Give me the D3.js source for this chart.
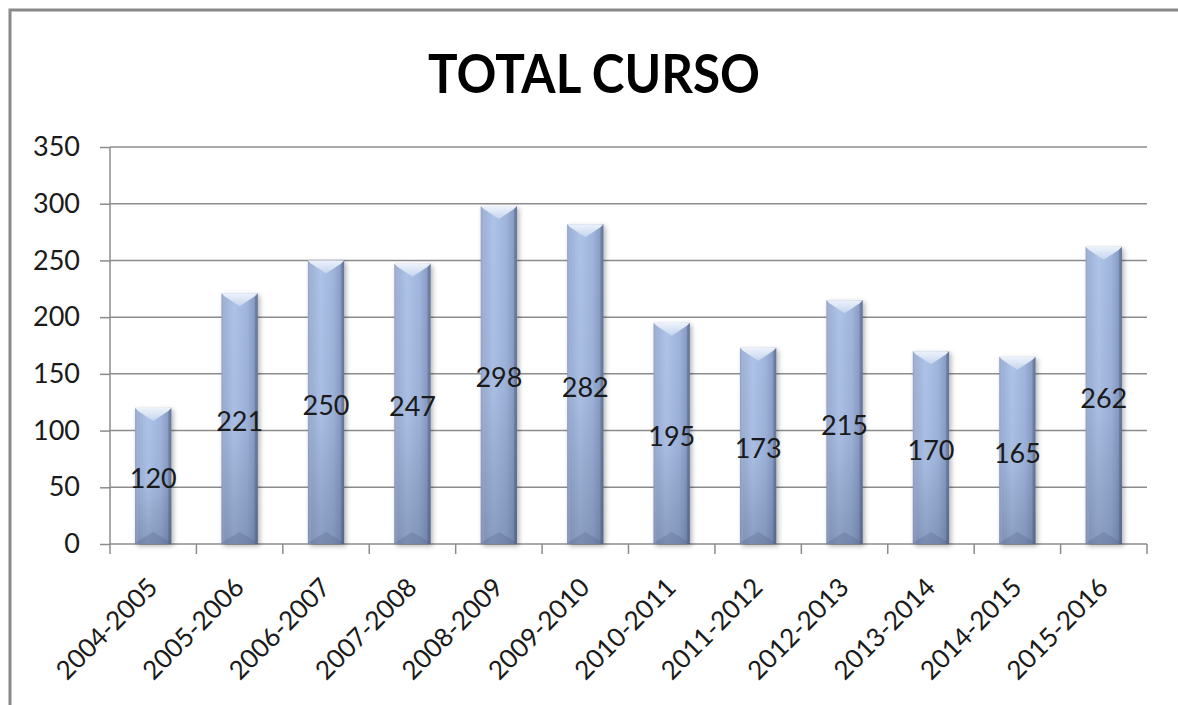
<!DOCTYPE html>
<html>
<head>
<meta charset="utf-8">
<script src="https://cdn.jsdelivr.net/npm/d3@7"></script>
<style>
  body { margin: 0; background: #fff; }
  text { font-family: Lato, "Open Sans", sans-serif; }
</style>
</head>
<body>
<div id="bar-chart"></div>
<script>
// Daten: Kurse und Gesamtzahlen, direkt
const courses = ["2004-2005", "2005-2006", "2006-2007", "2007-2008", "2008-2009", "2009-2010",
                 "2010-2011", "2011-2012", "2012-2013", "2013-2014", "2014-2015", "2015-2016"];
const totals = [120, 221, 250, 247, 298, 282, 195, 173, 215, 170, 165, 262];
const yTicks = [0, 50, 100, 150, 200, 250, 300, 350];
const chartTitle = "TOTAL CURSO";

const drawBarChart = () => {
    const width = 1178;
    const height = 705;
    // Plotbereich (in Pixeln der Vorlage gemessen)
    const margin = {top: 147, right: 31, bottom: 161, left: 110};
    const innerWidth = width - margin.left - margin.right;
    const innerHeight = height - margin.top - margin.bottom;

    const svg = d3.select("#bar-chart")
        .append("svg")
        .attr("width", width)
        .attr("height", height)
        .attr("viewBox", `0, 0, ${width}, ${height}`);

    // Verläufe für die "Zylinder"-Balken
    const defs = svg.append("defs");
    const hGrad = defs.append("linearGradient").attr("id", "barH")
        .attr("x1", "0").attr("x2", "1").attr("y1", "0").attr("y2", "0");
    [["0%", "#7f92b9"], ["10%", "#9fb3d9"], ["35%", "#aec3e7"], ["70%", "#a0b5dc"], ["90%", "#8a9ec6"], ["100%", "#6f82a8"]]
        .forEach(([o, c]) => hGrad.append("stop").attr("offset", o).attr("stop-color", c));
    const vGrad = defs.append("linearGradient").attr("id", "barV")
        .attr("x1", "0").attr("x2", "0").attr("y1", "0").attr("y2", "1");
    [["0%", 0], ["55%", 0.05], ["100%", 0.32]]
        .forEach(([o, a]) => vGrad.append("stop").attr("offset", o)
            .attr("stop-color", "#3d4c6e").attr("stop-opacity", a));
    const topGrad = defs.append("linearGradient").attr("id", "barTop")
        .attr("x1", "0").attr("x2", "0").attr("y1", "0").attr("y2", "1");
    topGrad.append("stop").attr("offset", "0%").attr("stop-color", "#eef3fb");
    topGrad.append("stop").attr("offset", "100%").attr("stop-color", "#c4d4ee");
    const shadow = defs.append("filter").attr("id", "shadow")
        .attr("x", "-30%").attr("y", "-10%").attr("width", "160%").attr("height", "120%");
    shadow.append("feDropShadow").attr("dx", 2).attr("dy", 2).attr("stdDeviation", 2.5)
        .attr("flood-color", "#000").attr("flood-opacity", 0.3);

    // Rahmen (links und oben sichtbar, Rest ist abgeschnitten)
    svg.append("path")
        .attr("d", `M 10 ${height + 5} V 10 H ${width + 5}`)
        .attr("fill", "none")
        .attr("stroke", "#8a8a8a")
        .attr("stroke-width", 3);

    // Titel
    svg.append("text")
        .text(chartTitle)
        .attr("x", 594)
        .attr("y", 93)
        .attr("text-anchor", "middle")
        .attr("font-size", 54)
        .attr("font-weight", "bold")
        .attr("textLength", 332)
        .attr("lengthAdjust", "spacingAndGlyphs")
        .attr("fill", "#000");

    const innerChart = svg.append("g")
        .attr("transform", `translate(${margin.left}, ${margin.top})`);

    // Skalen
    const xScale = d3.scaleBand()
        .domain(courses)
        .range([0, innerWidth])
        .paddingInner(0.58)
        .paddingOuter(0.29);
    const step = xScale.step();
    const yScale = d3.scaleLinear()
        .domain([0, 350])
        .range([innerHeight, 0]);

    // Gitterlinien
    innerChart.append("g")
        .selectAll("line")
        .data(yTicks.filter(t => t > 0))
        .join("line")
        .attr("x1", 0).attr("x2", innerWidth)
        .attr("y1", d => yScale(d)).attr("y2", d => yScale(d))
        .attr("stroke", "#8c8c8c")
        .attr("stroke-width", 1.5);

    // Y-Achse
    const leftAxis = d3.axisLeft(yScale)
        .tickValues(yTicks)
        .tickSize(10)
        .tickPadding(20);
    const yAxis = innerChart.append("g")
        .attr("class", "axis-y")
        .call(leftAxis);
    yAxis.select(".domain").attr("stroke", "#8c8c8c").attr("stroke-width", 1.5)
        .attr("d", `M 0 0 V ${innerHeight}`);
    yAxis.selectAll(".tick line").attr("stroke", "#8c8c8c").attr("stroke-width", 1.5);
    yAxis.selectAll(".tick text")
        .attr("font-size", 27)
        .attr("font-family", "Lato, sans-serif")
        .attr("fill", "#1a1a1a");

    // X-Achse: Linie und Teilstriche an den Kategoriegrenzen
    const xAxis = innerChart.append("g")
        .attr("class", "axis-x")
        .attr("transform", `translate(0, ${innerHeight})`);
    xAxis.append("line")
        .attr("x1", 0).attr("x2", innerWidth)
        .attr("stroke", "#8c8c8c").attr("stroke-width", 1.5);
    const boundaries = [0, ...courses.map(c => xScale(c) - xScale.paddingInner() * step / 2 + step)];
    xAxis.selectAll(".xtick")
        .data(boundaries)
        .join("line")
        .attr("class", "xtick")
        .attr("x1", d => d).attr("x2", d => d)
        .attr("y1", 0).attr("y2", 10)
        .attr("stroke", "#8c8c8c").attr("stroke-width", 1.5);
    xAxis.selectAll(".xlabel")
        .data(courses)
        .join("text")
        .attr("class", "xlabel")
        .text(d => d)
        .attr("text-anchor", "end")
        .attr("font-size", 26)
        .attr("fill", "#1a1a1a")
        .attr("transform", d => `translate(${xScale(d) + xScale.bandwidth() / 2 + 6}, 45) rotate(-45)`);

    // Balken
    const bw = xScale.bandwidth();
    const bars = innerChart.append("g")
        .selectAll("g")
        .data(totals)
        .join("g")
        .attr("transform", (d, i) => `translate(${xScale(courses[i])}, 0)`);

    bars.append("rect")
        .attr("x", 0)
        .attr("y", d => yScale(d))
        .attr("width", bw)
        .attr("height", d => innerHeight - yScale(d))
        .attr("fill", "url(#barH)")
        .attr("filter", "url(#shadow)");
    bars.append("rect")
        .attr("x", 0)
        .attr("y", d => yScale(d))
        .attr("width", bw)
        .attr("height", d => innerHeight - yScale(d))
        .attr("fill", "url(#barV)");
    // Seitliche Kanten
    bars.append("rect")
        .attr("x", 0).attr("y", d => yScale(d))
        .attr("width", 3).attr("height", d => innerHeight - yScale(d))
        .attr("fill", "#ffffff").attr("opacity", 0.15);
    bars.append("rect")
        .attr("x", bw - 3).attr("y", d => yScale(d))
        .attr("width", 3).attr("height", d => innerHeight - yScale(d))
        .attr("fill", "#2f3d5c").attr("opacity", 0.2);
    // Heller Keil oben
    bars.append("path")
        .attr("d", d => {
            const t = yScale(d);
            return `M 0 ${t} L ${bw} ${t} L ${bw - 3} ${t + 3} L ${bw / 2} ${t + 13} L 3 ${t + 3} Z`;
        })
        .attr("fill", "url(#barTop)");
    // Dunkler Keil unten
    bars.append("path")
        .attr("d", `M 0 ${innerHeight} L ${bw} ${innerHeight} L ${bw - 3} ${innerHeight - 3} L ${bw / 2} ${innerHeight - 12} L 3 ${innerHeight - 3} Z`)
        .attr("fill", "#4a5a7e")
        .attr("opacity", 0.25);

    // Werte mittig im Balken
    bars.append("text")
        .text(d => d)
        .attr("x", bw / 2)
        .attr("y", d => (yScale(d) + innerHeight) / 2 + 2)
        .attr("text-anchor", "middle")
        .attr("dominant-baseline", "central")
        .attr("font-size", 27)
        .attr("fill", "#1a1a1a");
};

drawBarChart();
</script>
</body>
</html>
